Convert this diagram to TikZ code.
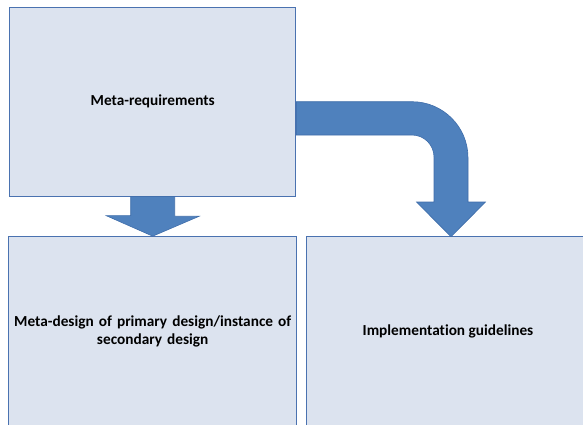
\documentclass[tikz,border=0pt]{standalone}
\usepackage{fontspec}
\setmainfont[Ligatures={NoCommon}]{Carlito}
\usetikzlibrary{calc}
\definecolor{boxfill}{HTML}{DCE3EF}
\definecolor{boxline}{HTML}{4A72B0}
\definecolor{arrowfill}{HTML}{4F81BD}
\definecolor{arrowline}{HTML}{3F6DAA}
\begin{document}
\begin{tikzpicture}[x=1pt,y=1pt,
  block/.style={draw=boxline,fill=boxfill,line width=1pt,inner sep=4pt,
    align=center,font=\fontsize{15.3}{18}\selectfont\bfseries},
  blockarrow/.style={fill=arrowfill,draw=arrowline,line width=0.6pt,line join=miter}]
\useasboundingbox (0,0) rectangle (583,-424);

% the three blocks
\node[block,minimum width=286pt,minimum height=188.7pt] (req) at (152.7,-101.7) {Meta-requirements};
\node[block,minimum width=286pt,minimum height=190.3pt,text width=280pt] (meta) at (152.7,-331.8)
  {Meta-design of primary design/instance of\\secondary design};
\node[block,minimum width=284pt,minimum height=190.3pt] (impl) at (448,-331.8) {Implementation guidelines};

% straight block arrow from the requirements down to the meta-design
\coordinate (dtip) at (req.south |- meta.north);
\fill[blockarrow] ($(req.south)+(-22,0)$) -- ($(req.south)+(22,0)$)
  -- ++(0,-19.7) -- ++(24.5,0) -- (dtip) -- ($(dtip)+(-46.5,20.5)$)
  -- ++(24.5,0) -- cycle;

% bent block arrow from the requirements to the guidelines
\coordinate (ctip) at (451,-236.7);
\fill[blockarrow] (req.east) -- (412,-101.7)
  arc[start angle=90,end angle=0,radius=56] -- (468,-202) -- (485.5,-202)
  -- (ctip) -- (416.5,-202) -- (434,-202) -- (434,-157)
  arc[start angle=0,end angle=90,radius=22] -- (req.east |- 0,-135) -- cycle;
\end{tikzpicture}
\end{document}
